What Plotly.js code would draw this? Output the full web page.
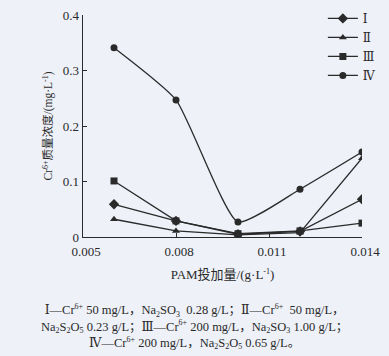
<!DOCTYPE html>
<html><head><meta charset="utf-8">
<script src="https://cdn.plot.ly/plotly-3.0.1.min.js"></script>
<style>html,body{margin:0;padding:0;background:#eef1f8;}#chart{width:389px;height:356px;}</style>
</head><body><div id="chart"></div>
<script>
const pamDose = [0.006, 0.008, 0.010, 0.012, 0.014];
const seriesNames = ["Ⅰ", "Ⅱ", "Ⅲ", "Ⅳ"];
const seriesI = [0.059, 0.029, 0.005, 0.010, 0.068];
const seriesII = [0.032, 0.011, 0.004, 0.008, 0.142];
const seriesIII = [0.101, 0.029, 0.006, 0.011, 0.025];
const seriesIV = [0.341, 0.247, 0.027, 0.086, 0.153];
const xTicks = [0.005, 0.008, 0.011, 0.014];
const yTicks = [0, 0.1, 0.2, 0.3, 0.4];

const ink = '#2a2a2a';
const serif = 'Liberation Serif, DejaVu Serif, Noto Sans CJK SC, serif';
const symbols = ['diamond', 'triangle-up', 'square', 'circle'];
const values = [seriesI, seriesII, seriesIII, seriesIV];
const traces = values.map((v, i) => ({
  x: pamDose, y: v, name: seriesNames[i], type: 'scatter', mode: 'lines+markers',
  line: {color: ink, width: 1.3, shape: i === 3 ? 'spline' : 'linear', smoothing: 0.5},
  marker: {symbol: symbols[i], size: i === 0 ? 8 : 7, color: ink}
}));

const sup = s => '<sup><span style="font-size:8px">' + s + '</span></sup>';
const sub = s => '<sub><span style="font-size:8px">' + s + '</span></sub>';

const layout = {
  width: 389, height: 356,
  paper_bgcolor: '#eef1f8', plot_bgcolor: 'rgba(0,0,0,0)',
  margin: {l: 83, r: 27, t: 15, b: 119, autoexpand: false},
  font: {family: serif, color: ink, size: 13},
  showlegend: true,
  legend: {xref: 'container', yref: 'container', x: 0.83, y: 0.989, xanchor: 'left', yanchor: 'top',
           bgcolor: 'rgba(0,0,0,0)',
           font: {family: serif, size: 12, color: ink}, itemwidth: 30, tracegroupgap: 0},
  xaxis: {range: [0.005, 0.014], tickvals: xTicks, ticktext: xTicks.map(v => v.toFixed(3)),
          ticks: 'inside', ticklen: 4, tickcolor: ink, showline: true, linecolor: ink, linewidth: 1.3,
          ticklabelshift: 3, ticklabelstandoff: 2, automargin: false,
          showgrid: false, zeroline: false, tickfont: {family: serif, size: 13, color: ink},
          title: {text: 'PAM投加量/(g·L' + sup('-1') + ')', font: {family: serif, size: 13, color: ink}, standoff: 12}},
  yaxis: {range: [0, 0.4], tickvals: yTicks, ticktext: yTicks.map(v => v === 0 ? '0' : v.toFixed(1)),
          ticks: 'inside', ticklen: 4, tickcolor: ink, showline: true, linecolor: ink, linewidth: 1.3,
          automargin: false,
          showgrid: false, zeroline: false, tickfont: {family: serif, size: 13, color: ink},
          title: {text: 'Cr' + sup('6+') + '质量浓度/(mg·L' + sup('-1') + ')', font: {family: serif, size: 11.5, color: ink}, standoff: 7}},
  annotations: [{
    xref: 'paper', yref: 'paper', x: 0.401, y: -0.285, xanchor: 'center', yanchor: 'top',
    showarrow: false, align: 'center', font: {family: serif, size: 12.5, color: ink},
    text: 'Ⅰ—Cr' + sup('6+') + ' 50 mg/L，Na' + sub('2') + 'SO' + sub('3') + '  0.28 g/L；Ⅱ—Cr' + sup('6+') + '  50 mg/L，<br>' +
          'Na' + sub('2') + 'S' + sub('2') + 'O' + sub('5') + ' 0.23 g/L；Ⅲ—Cr' + sup('6+') + ' 200 mg/L，Na' + sub('2') + 'SO' + sub('3') + ' 1.00 g/L；<br>' +
          'Ⅳ—Cr' + sup('6+') + ' 200 mg/L，Na' + sub('2') + 'S' + sub('2') + 'O' + sub('5') + ' 0.65 g/L。'
  }]
};
Plotly.newPlot('chart', traces, layout, {displayModeBar: false, staticPlot: true});
</script></body></html>
